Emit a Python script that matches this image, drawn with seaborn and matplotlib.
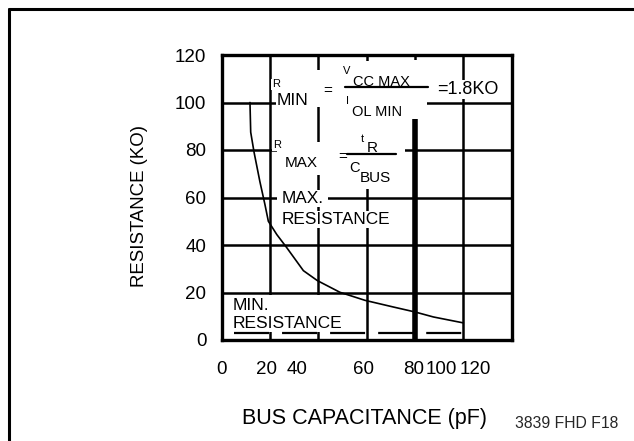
import numpy as np
import pandas as pd
import matplotlib.pyplot as plt
import seaborn as sns
from matplotlib.lines import Line2D
from matplotlib.patches import Rectangle

# curve (bus capacitance pF, resistance KO)
cap = [11.7, 12.0, 13.4, 15.8, 17.9, 19.3, 22.8, 26.9, 33.8, 39.6, 48.9, 59.3, 71.0, 80.0, 87.6, 100.0]
res = [100.0, 87.5, 79.0, 66.7, 57.0, 50.0, 44.4, 38.9, 29.2, 25.0, 20.1, 16.7, 13.9, 11.8, 9.7, 7.2]

# min resistance line
min_res = 2.8
min_x = [5, 100]

# tick labels as placed in the scan
xtick_pos = [0, 18.7, 31, 58.6, 79.3, 90.7, 105]
xtick_lab = ['0', '20', '40', '60', '80', '100', '120']
ytick_pos = [0, 20, 40, 60, 80, 100, 120]
xgrid = [20, 40, 60, 80, 100]

sns.set_style('white')
plt.rcParams['font.family'] = ['Liberation Sans', 'DejaVu Sans']
plt.rcParams['lines.scale_dashes'] = False

fig = plt.figure(figsize=(6.34, 4.41), dpi=100)
ax = fig.add_axes([221.7 / 634, 1 - 340 / 441, 290 / 634, 285 / 441])

df = pd.DataFrame({'cap': cap, 'res': res})
sns.lineplot(data=df, x='cap', y='res', color='black', lw=1.2, ax=ax, zorder=6, sort=False)
ax.plot(min_x, [min_res, min_res], color='black', lw=1.6, dashes=(25.2, 9.4), zorder=5)

ax.set_xlim(0, 120)
ax.set_ylim(0, 120)
ax.set_xticks(xtick_pos, xtick_lab)
ax.set_xticks(xgrid, minor=True)
ax.set_yticks(ytick_pos, [str(v) for v in ytick_pos])
ax.tick_params(axis='both', which='both', length=0, labelsize=13.5, colors='black')
ax.tick_params(axis='x', pad=15)
ax.tick_params(axis='y', pad=11)
ax.grid(axis='x', which='minor', color='black', lw=1.8, zorder=1)
ax.grid(axis='y', which='major', color='black', lw=1.8, zorder=1)
ax.set_axisbelow(True)
ax.axvline(80, ymax=93 / 120, color='black', lw=4, zorder=2)
for s in ax.spines.values():
    s.set_linewidth(2.4)
    s.set_color('black')
    s.set_zorder(7)

ax.set_xlabel('BUS CAPACITANCE (pF)', fontsize=15.5, color='black')
ax.set_ylabel('RESISTANCE (KO)', fontsize=13.4, color='black')
ax.xaxis.set_label_coords(0.493, -0.239)
ax.yaxis.set_label_coords(-0.254, 0.47)

# white patches behind the formulas, where the scan's grid is blanked out
for (x0, x1, y0, y1) in [(41, 75.8, 63.5, 117.3), (23, 41.5, 69.6, 83.3), (24, 41.5, 97.9, 113.7),
                         (75.8, 85, 93, 117.8), (23, 44, 57.5, 62.5), (4.5, 50.5, 3.6, 18.8)]:
    ax.add_patch(Rectangle((x0, y0), x1 - x0, y1 - y0, facecolor='white', edgecolor='none', zorder=3))

box = dict(facecolor='white', edgecolor='none', pad=0.5)


def txt(x, y, s, size=11, ha='left'):
    ax.text(x, y, s, fontsize=size, ha=ha, va='center', color='black', bbox=box, zorder=4)


# R_MIN formula
txt(22.5, 107.6, 'R', 8, 'center')
txt(22.6, 100.9, 'MIN', 12.6)
txt(44, 105, '=', 11, 'center')
txt(51.9, 113.3, 'V', 8, 'center')
txt(54.4, 108.75, 'CC MAX', 10.5)
txt(51.9, 100.8, 'I', 8, 'center')
txt(53.9, 95.8, 'OL MIN', 10.5)
txt(89, 105.4, '=1.8KO', 13)
ax.plot([51, 85.4], [106.7, 106.7], color='black', lw=1.6, zorder=5)

# R_MAX formula
txt(22.9, 82, 'R', 8, 'center')
txt(26.2, 74.7, 'MAX', 11)
txt(50, 77, '=', 11, 'center')
txt(58, 84.6, 't', 8, 'center')
txt(60, 81, 'R', 11)
txt(52.7, 72.5, 'C', 10.5)
txt(57, 68, 'BUS', 11)
ax.plot([52, 72], [78.3, 78.3], color='black', lw=1.6, zorder=5)

txt(25, 59.6, 'MAX.', 12.4)
txt(25, 50.8, 'RESISTANCE', 12.4)
txt(4.7, 14.6, 'MIN.', 12.5)
txt(4.7, 6.9, 'RESISTANCE', 12.5)

fig.text(515 / 634, 1 - 423 / 441, '3839 FHD F18', fontsize=11.3, ha='left', va='center')

# outer frame of the scan
fig.add_artist(Line2D([8.5 / 634, 8.5 / 634], [1 - 8.5 / 441, 0], transform=fig.transFigure, color='black', lw=2.2))
fig.add_artist(Line2D([8.5 / 634, 1], [1 - 8.5 / 441, 1 - 8.5 / 441], transform=fig.transFigure, color='black', lw=2.2))

fig.savefig('out.png', dpi=100)
